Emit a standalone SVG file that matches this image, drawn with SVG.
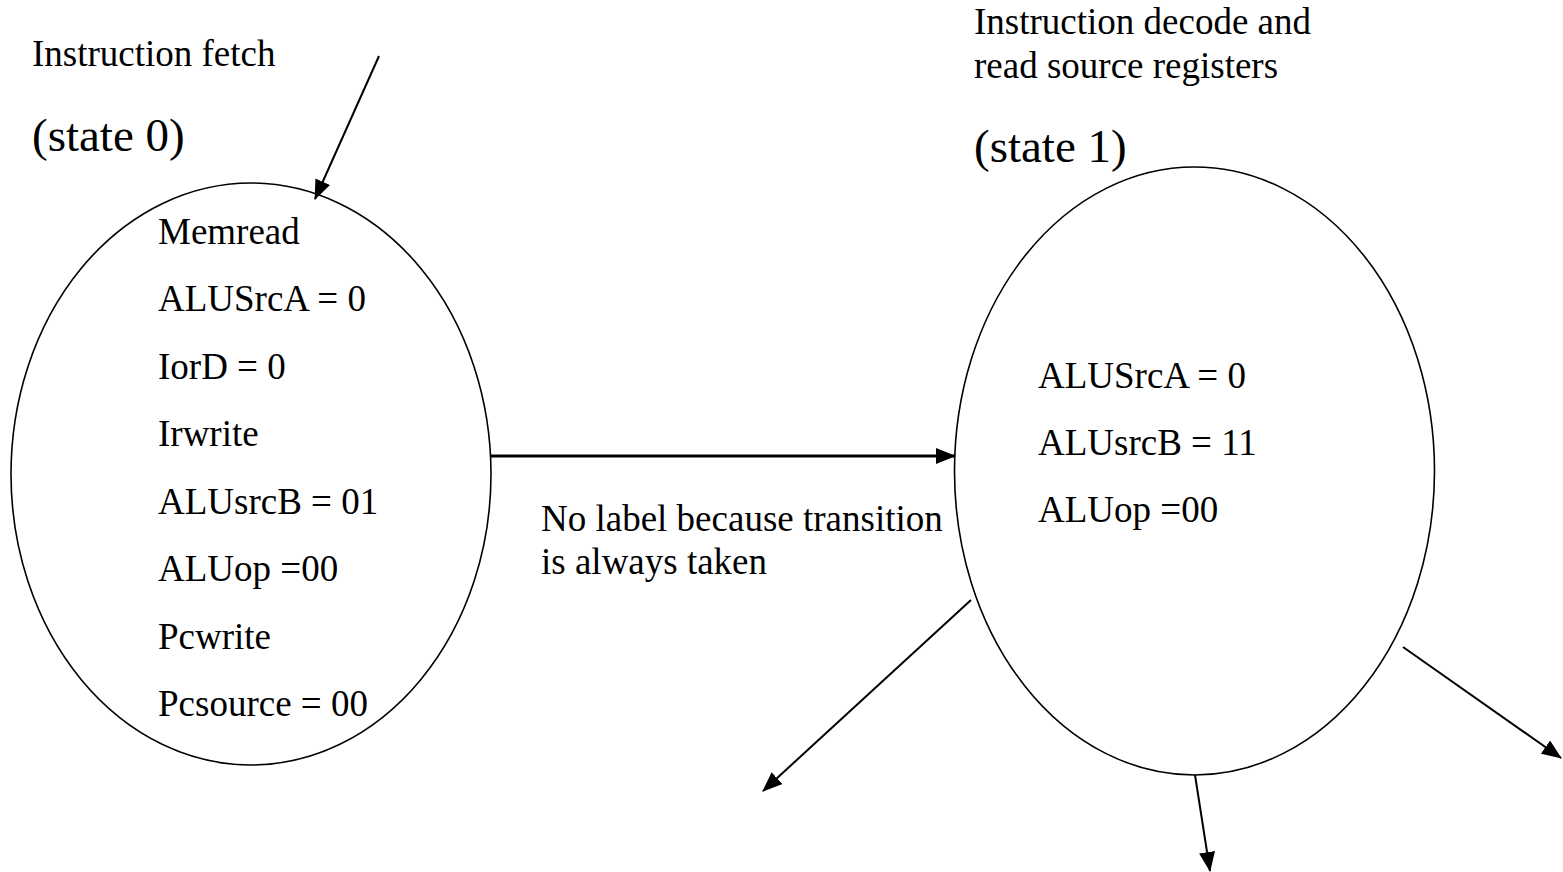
<svg xmlns="http://www.w3.org/2000/svg" width="1563" height="872" viewBox="0 0 1563 872">
<style>
  text { font-family: "Liberation Serif", "Times New Roman", serif; fill: #000; }
  .t { font-size: 37px; }
  .s { font-size: 47px; }
  .node { fill: #fff; stroke: #000; stroke-width: 1.6; }
  .edge { stroke: #000; stroke-width: 2; fill: none; marker-end: url(#ah); }
  .thick { stroke-width: 3.2; }
</style>
<defs>
  <marker id="ah" viewBox="0 0 20 16" refX="19" refY="8" markerUnits="userSpaceOnUse" markerWidth="20" markerHeight="16" orient="auto">
    <path d="M0,0 L20,8 L0,16 Z" fill="#000"/>
  </marker>
</defs>
<rect width="1563" height="872" fill="#fff"/>
<g id="state0">
  <ellipse class="node" cx="251" cy="474" rx="240" ry="291"/>
  <text class="t" x="158" y="244">Memread</text>
  <text class="t" x="158" y="311">ALUSrcA = 0</text>
  <text class="t" x="158" y="379">IorD = 0</text>
  <text class="t" x="158" y="446">Irwrite</text>
  <text class="t" x="158" y="514">ALUsrcB = 01</text>
  <text class="t" x="158" y="581">ALUop =00</text>
  <text class="t" x="158" y="649">Pcwrite</text>
  <text class="t" x="158" y="716">Pcsource = 00</text>
</g>
<g id="state0-label">
  <text class="t" x="32" y="66">Instruction fetch</text>
  <text class="s" x="32" y="151">(state 0)</text>
</g>
<g id="state1">
  <ellipse class="node" cx="1194.5" cy="471" rx="240" ry="304"/>
  <text class="t" x="1038" y="388">ALUSrcA = 0</text>
  <text class="t" x="1038" y="455">ALUsrcB = 11</text>
  <text class="t" x="1038" y="522">ALUop =00</text>
</g>
<g id="state1-label">
  <text class="t" x="974" y="34">Instruction decode and</text>
  <text class="t" x="974" y="78">read source registers</text>
  <text class="s" x="974" y="162">(state 1)</text>
</g>
<g id="connectors">
  <line class="edge" x1="379" y1="56" x2="315" y2="199"/>
  <line class="edge thick" x1="491" y1="456" x2="955" y2="456"/>
  <line class="edge" x1="971" y1="600" x2="763" y2="791"/>
  <line class="edge" x1="1195" y1="775" x2="1210" y2="871"/>
  <line class="edge" x1="1403" y1="647" x2="1561" y2="758"/>
</g>
<g id="edge-label">
  <text class="t" x="541" y="531">No label because transition</text>
  <text class="t" x="541" y="574">is always taken</text>
</g>
</svg>
